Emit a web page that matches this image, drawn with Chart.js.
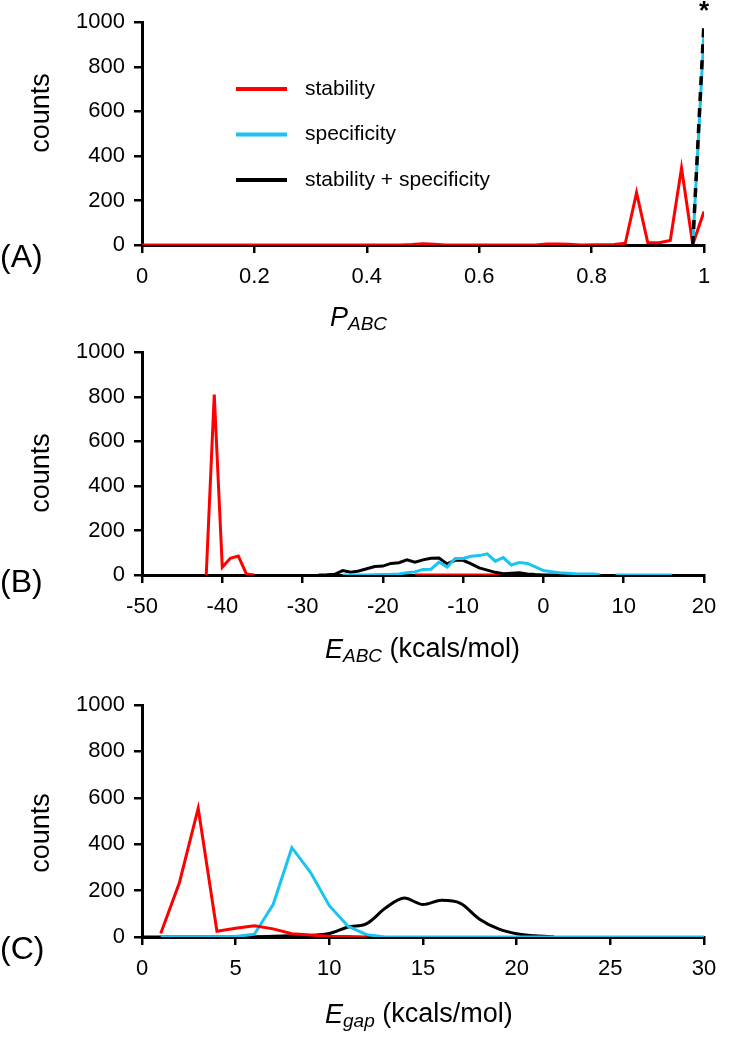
<!DOCTYPE html>
<html lang="en">
<head>
<meta charset="utf-8">
<script src="https://cdn.jsdelivr.net/npm/chart.js@4.4.1/dist/chart.umd.min.js"></script>
<style>
    body {margin:0; background:#fff;}
    .panel {position:absolute; left:0;}
</style>
</head>
<body>

<canvas id="chartA" class="panel" width="732" height="330" style="top:0px"></canvas>
<canvas id="chartB" class="panel" width="732" height="350" style="top:330px"></canvas>
<canvas id="chartC" class="panel" width="732" height="370" style="top:680px"></canvas>

<script type="text/javascript">
'use strict';

// series names
var seriesNames = ["stability", "specificity", "stability + specificity"];

// (A) P_ABC histogram
var redA_x   = [0, 0.46, 0.48, 0.5, 0.52, 0.54, 0.7, 0.72, 0.74, 0.76, 0.78, 0.84, 0.86, 0.88, 0.9, 0.92, 0.94, 0.96, 0.98, 1];
var redA_y   = [0, 0, 2, 6, 3, 0, 0, 4, 5, 3, 0, 2, 8, 235, 10, 10, 20, 345, 2, 150];
var cyanA_x  = [0.98, 1];
var cyanA_y  = [0, 950];
var blackA_x = [0.98, 1];
var blackA_y = [0, 1000];

// (B) E_ABC histogram
var redB_x   = [-42, -41, -40, -39, -38, -37, -36, -30, -16, -5];
var redB_y   = [0, 810, 35, 75, 85, 5, 0, null, 0, 0];
var blackB_x = [-28, -27, -26, -25, -24, -23, -22, -21, -20, -19, -18, -17, -16, -15, -14, -13, -12, -11, -10, -9, -8, -7, -6, -5, -4, -3, -2, -1, 0, 1, 2];
var blackB_y = [0, 1, 3, 20, 12, 18, 28, 38, 40, 52, 55, 68, 57, 68, 75, 76, 50, 66, 66, 50, 32, 22, 12, 6, 8, 10, 5, 2, 0, 0, 0];
var cyanB_x  = [-25, -24, -23, -22, -21, -20, -19, -18, -17, -16, -15, -14, -13, -12, -11, -10, -9, -8, -7, -6, -5, -4, -3, -2, -1, 0, 1, 2, 3, 4, 5, 6, 7, 8, 9, 10, 11, 12, 13, 14, 15, 16];
var cyanB_y  = [0, 0, 0, 0, 1, 2, 3, 5, 10, 14, 25, 26, 58, 36, 74, 74, 84, 87, 95, 62, 78, 45, 56, 52, 36, 20, 15, 10, 8, 6, 5, 4, 2, null, 0, 0, 0, 0, 0, 0, 0, 0];

// (C) E_gap histogram
var redC_x   = [1, 2, 3, 4, 5, 6, 7, 8, 9, 10, 11, 12];
var redC_y   = [15, 235, 555, 25, 38, 48, 35, 14, 9, 3, 2, 0];
var cyanC_x  = [1, 2, 3, 4, 5, 6, 7, 8, 9, 10, 11, 12, 13, 14, 15, 16, 17, 18, 19, 20, 21, 22, 23, 24, 25, 26, 27, 28, 29, 30];
var cyanC_y  = [0, 0, 0, 0, 2, 12, 140, 385, 278, 135, 46, 10, 0, 0, 0, 0, 0, 0, 0, 0, 0, 0, 0, 0, 0, 0, 0, 0, 0, 0];
var blackC_x = [0, 1, 2, 3, 4, 5, 6, 7, 8, 9, 10, 11, 12, 13, 14, 15, 16, 17, 18, 19, 20, 21, 22];
var blackC_y = [0, 0, 0, 0, 0, 0, 1, 3, 5, 7, 15, 43, 58, 125, 168, 140, 158, 145, 78, 36, 14, 5, 1];

var countTicks = [0, 200, 400, 600, 800, 1000];

var RED = "#ff0000", CYAN = "#18c4f0", BLACK = "#000000";
var FONT = "'Liberation Sans', Arial, sans-serif";

function pts(xs, ys) {
    return xs.map(function (x, i) { return {x: x, y: ys[i]}; });
}

// plain numbers, no thousands separator
function plain(v) {
    return String(parseFloat(Number(v).toFixed(2)));
}

function drawRich(ctx, parts, x, y) {
    var cx = x;
    parts.forEach(function (p) {
        ctx.font = (p.i ? "italic " : "") + (p.sub ? 19 : 27) + "px " + FONT;
        ctx.fillText(p.t, cx, y + (p.sub ? 7 : 0));
        cx += ctx.measureText(p.t).width;
    });
}

// panel letter, y title, x title, legend and asterisk
var deco = {
    id: "deco",
    afterDraw: function (chart, args, o) {
        var ctx = chart.ctx;
        ctx.save();
        ctx.fillStyle = "#000";
        ctx.textBaseline = "middle";
        ctx.textAlign = "left";
        ctx.font = "32px " + FONT;
        ctx.fillText(o.panel, 0, o.panelY);

        ctx.save();
        ctx.translate(42, o.countsY);
        ctx.rotate(-Math.PI / 2);
        ctx.textAlign = "center";
        ctx.font = "27px " + FONT;
        ctx.fillText("counts", 0, 0);
        ctx.restore();

        drawRich(ctx, o.title, o.titleX, o.titleY);

        if (o.legend) {
            ctx.font = "21px " + FONT;
            chart.data.datasets.forEach(function (ds, i) {
                var y = o.legend.y + i * o.legend.gap;
                ctx.strokeStyle = ds.borderColor;
                ctx.lineWidth = 4;
                ctx.beginPath();
                ctx.moveTo(o.legend.x, y);
                ctx.lineTo(o.legend.x + 51, y);
                ctx.stroke();
                ctx.fillText(ds.label, o.legend.x + 69, y);
            });
        }
        if (o.star) {
            var xs = chart.scales.x, ys = chart.scales.y;
            ctx.textAlign = "center";
            ctx.font = "bold 26px " + FONT;
            ctx.fillText("*", xs.getPixelForValue(1), ys.getPixelForValue(1000) - 10);
        }
        ctx.restore();
    }
};

function lineSet(label, xs, ys, color, order, extra) {
    var d = {
        label: label,
        data: pts(xs, ys),
        borderColor: color,
        backgroundColor: color,
        borderWidth: 3,
        pointRadius: 0,
        fill: false,
        tension: 0,
        spanGaps: false,
        order: order
    };
    for (var k in extra) d[k] = extra[k];
    return d;
}

function axes(xmin, xmax, step, xHeight) {
    return {
        x: {
            type: "linear", min: xmin, max: xmax,
            ticks: {stepSize: step, color: "#000", font: {family: FONT, size: 22}, padding: 11, maxRotation: 0, callback: plain},
            grid: {display: true, drawOnChartArea: false, drawTicks: true, tickLength: 8, color: "#000", lineWidth: 2.5},
            border: {display: true, color: "#000", width: 3},
            afterFit: function (s) { s.height = xHeight; }
        },
        y: {
            min: 0, max: 1000,
            afterBuildTicks: function (s) { s.ticks = countTicks.map(function (v) { return {value: v}; }); },
            ticks: {color: "#000", font: {family: FONT, size: 22}, padding: 9, callback: plain},
            grid: {display: true, drawOnChartArea: false, drawTicks: true, tickLength: 8, color: "#000", lineWidth: 2.5},
            border: {display: true, color: "#000", width: 3},
            afterFit: function (s) { s.width = 142; }
        }
    };
}

function makeChart(id, datasets, scales, top, decoOpts) {
    return new Chart(document.getElementById(id), {
        type: "line",
        data: {datasets: datasets},
        options: {
            responsive: false,
            animation: false,
            events: [],
            layout: {padding: {left: 0, right: 28, top: top, bottom: 0}},
            scales: scales,
            plugins: {legend: {display: false}, tooltip: {enabled: false}, deco: decoOpts}
        },
        plugins: [deco]
    });
}

function drawGraphs() {
    makeChart("chartA", [
        lineSet(seriesNames[0], redA_x, redA_y, RED, 2),
        lineSet(seriesNames[1], cyanA_x, cyanA_y, CYAN, 1),
        lineSet(seriesNames[2], blackA_x, blackA_y, BLACK, 0, {borderDash: [9, 7], borderWidth: 3.5})
    ], axes(0, 1, 0.2, 85), 21, {
        panel: "(A)", panelY: 258, countsY: 113,
        title: [{t: "P", i: 1}, {t: "ABC", i: 1, sub: 1}], titleX: 330, titleY: 318,
        legend: {x: 236, y: 89, gap: 45.5}, star: true
    });

    makeChart("chartB", [
        lineSet(seriesNames[0], redB_x, redB_y, RED, 2),
        lineSet(seriesNames[1], cyanB_x, cyanB_y, CYAN, 0),
        lineSet(seriesNames[2], blackB_x, blackB_y, BLACK, 1)
    ], axes(-50, 20, 10, 105), 17, {
        panel: "(B)", panelY: 253, countsY: 143,
        title: [{t: "E", i: 1}, {t: "ABC", i: 1, sub: 1}, {t: " (kcals/mol)"}], titleX: 325, titleY: 320
    });

    makeChart("chartC", [
        lineSet(seriesNames[0], redC_x, redC_y, RED, 0),
        lineSet(seriesNames[1], cyanC_x, cyanC_y, CYAN, 1),
        lineSet(seriesNames[2], blackC_x, blackC_y, BLACK, 2, {cubicInterpolationMode: "monotone"})
    ], axes(0, 30, 5, 113), 25, {
        panel: "(C)", panelY: 270, countsY: 153,
        title: [{t: "E", i: 1}, {t: "gap", i: 1, sub: 1}, {t: " (kcals/mol)"}], titleX: 325, titleY: 335
    });
}

window.onload = function () {
    drawGraphs();
};
</script>
</body>
</html>
